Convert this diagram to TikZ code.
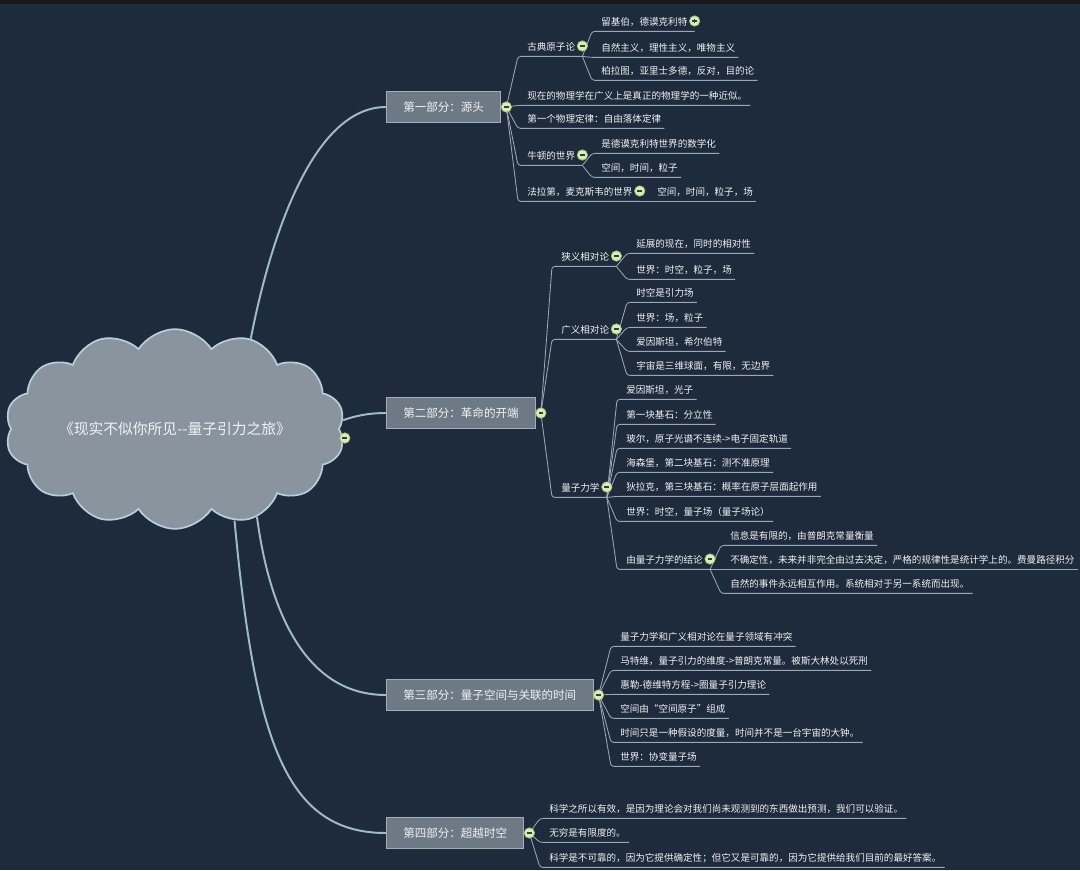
\documentclass[tikz,border=0pt]{standalone}
\usepackage{fontspec}
\setmainfont{Noto Sans CJK SC}
\usetikzlibrary{positioning,calc,shapes.symbols}

\definecolor{bgc}{HTML}{1E2B3C}
\definecolor{cloudfill}{HTML}{8A949F}
\definecolor{cloudedge}{HTML}{B4D0DC}
\definecolor{boxfill}{HTML}{6E7986}
\definecolor{boxedge}{HTML}{A3ADB8}
\definecolor{trunkc}{HTML}{9DBBCB}
\definecolor{twigc}{HTML}{9AA8B5}
\definecolor{txt}{HTML}{F2F2F2}
\definecolor{foldfill}{HTML}{DCEBBE}
\definecolor{foldedge}{HTML}{9CBF6C}
\definecolor{foldmark}{HTML}{33402F}

\begin{document}
\begin{tikzpicture}[x=0.025cm,y=-0.025cm,
  leaf/.style={anchor=west,inner xsep=0pt,inner ysep=2.2pt,text height=0.8em,text depth=0.2em,text=txt,font=\fontsize{6.8}{8}\selectfont},
  part/.style={anchor=west,draw=boxedge,fill=boxfill,line width=0.7pt,inner xsep=0.42cm,minimum height=0.775cm,text=txt,font=\fontsize{8.2}{10}\selectfont},
  trunk/.style={draw=trunkc,line width=1.4pt},
  twig/.style={draw=twigc,line width=0.6pt,rounded corners=2pt},
  fold/.style={circle,draw=foldedge,fill=foldfill,line width=0.5pt,minimum size=0.26cm,inner sep=0pt,
    path picture={\draw[foldmark,line width=1pt] ([xshift=0.07cm]path picture bounding box.west) -- ([xshift=-0.07cm]path picture bounding box.east);}},
  unfold/.style={circle,draw=foldedge,fill=foldfill,line width=0.5pt,minimum size=0.26cm,inner sep=0pt,
    path picture={\draw[foldmark,line width=0.9pt] ([xshift=0.07cm]path picture bounding box.west) -- ([xshift=-0.07cm]path picture bounding box.east)
      ([yshift=-0.07cm]path picture bounding box.north) -- ([yshift=0.07cm]path picture bounding box.south);}}]

% background
\fill[bgc] (0,0) rectangle (1080,870);
\fill[black!90] (0,0) rectangle (1080,4);
\useasboundingbox (0,0) rectangle (1080,870);

% centre
\node[cloud,cloud puffs=14,cloud puff arc=115,aspect=2,inner sep=0pt,draw=cloudedge,fill=cloudfill,line width=1.2pt,
  minimum width=6.9cm,minimum height=3.4cm,text=txt,font=\fontsize{10.5}{12}\selectfont] (root) at (175,429)
  {《现实不似你所见-{}-量子引力之旅》};

% Part 1
\node[part] (p1) at (386,107) {第一部分：源头};
\coordinate (p1k) at ($(p1.east)+(5,0)$);
\node[leaf] (a1) at (527,46) {古典原子论};
\node[leaf] (a11) at (601,21) {留基伯，德谟克利特};
\node[leaf] (a12) at (601,47) {自然主义，理性主义，唯物主义};
\node[leaf] (a13) at (601,70) {柏拉图，亚里士多德，反对，目的论};
\node[leaf] (a2) at (527,95) {现在的物理学在广义上是真正的物理学的一种近似。};
\node[leaf] (a3) at (527,118) {第一个物理定律：自由落体定律};
\node[leaf] (a4) at (527,155) {牛顿的世界};
\node[leaf] (a41) at (601,143) {是德谟克利特世界的数学化};
\node[leaf] (a42) at (601,167) {空间，时间，粒子};
\node[leaf] (a5) at (527,191) {法拉第，麦克斯韦的世界};
\node[leaf] (a51) at (657,191) {空间，时间，粒子，场};

% Part 2
\node[part] (p2) at (386,413) {第二部分：革命的开端};
\coordinate (p2k) at ($(p2.east)+(5,0)$);
\node[leaf] (b1) at (561,256) {狭义相对论};
\node[leaf] (b11) at (636,243) {延展的现在，同时的相对性};
\node[leaf] (b12) at (636,269) {世界：时空，粒子，场};
\node[leaf] (b2) at (561,329) {广义相对论};
\node[leaf] (b21) at (636,292) {时空是引力场};
\node[leaf] (b22) at (636,317) {世界：场，粒子};
\node[leaf] (b23) at (636,341) {爱因斯坦，希尔伯特};
\node[leaf] (b24) at (636,365) {宇宙是三维球面，有限，无边界};
\node[leaf] (b3) at (561,487) {量子力学};
\node[leaf] (b31) at (626,389) {爱因斯坦，光子};
\node[leaf] (b32) at (626,414) {第一块基石：分立性};
\node[leaf] (b33) at (626,438) {玻尔，原子光谱不连续->电子固定轨道};
\node[leaf] (b34) at (626,462) {海森堡，第二块基石：测不准原理};
\node[leaf] (b35) at (626,486) {狄拉克，第三块基石：概率在原子层面起作用};
\node[leaf] (b36) at (626,511) {世界：时空，量子场（量子场论）};
\node[leaf] (b37) at (626,559) {由量子力学的结论};
\node[leaf] (b371) at (730,535) {信息是有限的，由普朗克常量衡量};
\node[leaf] (b372) at (730,559) {不确定性，未来并非完全由过去决定，严格的规律性是统计学上的。费曼路径积分};
\node[leaf] (b373) at (730,583) {自然的事件永远相互作用。系统相对于另一系统而出现。};

% Part 3
\node[part] (p3) at (386,695) {第三部分：量子空间与关联的时间};
\coordinate (p3k) at ($(p3.east)+(5,0)$);
\node[leaf] (c1) at (620,636) {量子力学和广义相对论在量子领域有冲突};
\node[leaf] (c2) at (620,660) {马特维，量子引力的维度->普朗克常量。被斯大林处以死刑};
\node[leaf] (c3) at (620,684) {惠勒-德维特方程->圈量子引力理论};
\node[leaf] (c4) at (620,708) {空间由“空间原子”组成};
\node[leaf] (c5) at (620,732) {时间只是一种假设的度量，时间并不是一台宇宙的大钟。};
\node[leaf] (c6) at (620,756) {世界：协变量子场};

% Part 4
\node[part] (p4) at (386,833) {第四部分：超越时空};
\coordinate (p4k) at ($(p4.east)+(5,0)$);
\node[leaf] (d1) at (549,808) {科学之所以有效，是因为理论会对我们尚未观测到的东西做出预测，我们可以验证。};
\node[leaf] (d2) at (549,832) {无穷是有限度的。};
\node[leaf] (d3) at (549,857) {科学是不可靠的，因为它提供确定性；但它又是可靠的，因为它提供给我们目前的最好答案。};

% folds of the inner topics
\foreach \n in {a1,a11,a4,a5,b1,b2,b3,b37} {
  \coordinate (\n k) at ($(\n.east)+(7,0)$);
  \coordinate (\n f) at ($(\n.south east)+(7,0)$);
}

% trunks
\draw[trunk] (root.50) .. controls (272,230) and (315,107) .. (p1.west);
\draw[trunk] (root.3) .. controls (355,416) and (368,413) .. (p2.west);
\draw[trunk] (root.-47) .. controls (268,600) and (300,695) .. (p3.west);
\draw[trunk] (root.-57) .. controls (255,740) and (285,833) .. (p4.west);

% twigs to topics with children
\foreach \k/\n in {p1k/a1,a1f/a11,p1k/a4,p1k/a5,p2k/b1,p2k/b2,p2k/b3,b3f/b37}
  \draw[twig] (\k) -- ($(\n.south west)+(-9,0)$) -- (\n f);
% twigs to plain topics
\foreach \k/\n in {a1f/a12,a1f/a13,p1k/a2,p1k/a3,a4f/a41,a4f/a42,a5f/a51,
    b1f/b11,b1f/b12,b2f/b21,b2f/b22,b2f/b23,b2f/b24,
    b3f/b31,b3f/b32,b3f/b33,b3f/b34,b3f/b35,b3f/b36,b37f/b371,b37f/b372,b37f/b373,
    p3k/c1,p3k/c2,p3k/c3,p3k/c4,p3k/c5,p3k/c6,p4k/d1,p4k/d2,p4k/d3}
  \draw[twig] (\k) -- ($(\n.south west)+(-9,0)$) -- ($(\n.south east)+(3,0)$);

% fold buttons
\node[fold] (rootk) at ($(root.east)+(5,9)$) {};
\foreach \k in {p1k,p2k,p3k,p4k,a1k,a4k,a5k,b1k,b2k,b3k,b37k}
  \node[fold] at (\k) {};
\node[unfold] at (a11k) {};
\end{tikzpicture}
\end{document}
